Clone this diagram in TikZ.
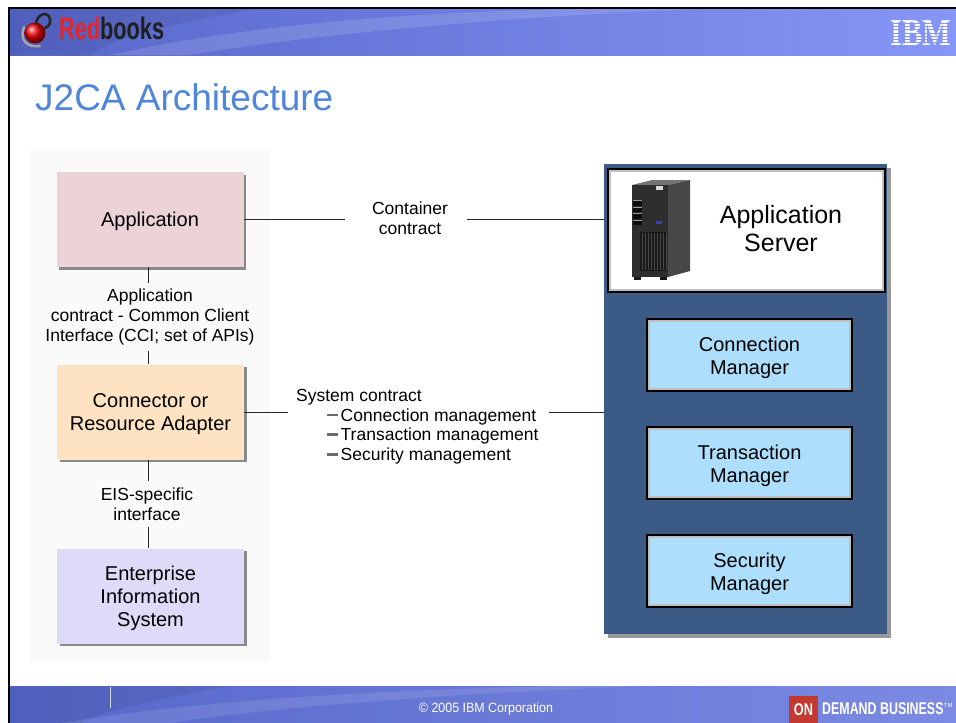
\documentclass[tikz,border=0pt]{standalone}
\usepackage{fontspec}
\usepackage{graphicx}
\setmainfont{Liberation Sans}
\newfontfamily\logoserif{Liberation Serif}
\usetikzlibrary{shadows,calc}

\definecolor{appfill}{HTML}{ECD3D8}
\definecolor{adpfill}{HTML}{FDE3C2}
\definecolor{eisfill}{HTML}{DEDBF8}
\definecolor{mgrfill}{HTML}{ADDFFD}
\definecolor{asblue}{HTML}{3B5A86}
\definecolor{leftbg}{HTML}{FAFAFB}
\definecolor{titleblue}{HTML}{4F86D9}
\definecolor{bandL}{HTML}{5767CA}
\definecolor{bandR}{HTML}{8696F6}
\definecolor{redbk}{HTML}{E3262B}
\definecolor{onred}{HTML}{C4392F}

\newcommand\jBox{\fontsize{20}{23}\selectfont}
\newcommand\jLab{\fontsize{17.5}{20}\selectfont}
\newcommand\jDash{\textcolor{black!58}{\rule[4.8pt]{10.5pt}{2.6pt}}}
% top struts that push box captions slightly down
\newcommand\jTopA{\rule{0pt}{19pt}}
\newcommand\jTopB{\rule{0pt}{20.5pt}}

\begin{document}
\begin{tikzpicture}[x=1pt,y=-1pt,
  wire/.style={draw=black!85,line width=1pt},
  lbox/.style={rectangle,fill=#1,minimum width=187pt,minimum height=95pt,inner sep=0pt,
    align=center,font=\jBox,
    drop shadow={shadow xshift=2.5pt,shadow yshift=-2.5pt,fill=black,opacity=0.45}},
  lab/.style={align=center,font=\jLab,inner xsep=0pt,inner ysep=6pt},
  mgr/.style={rectangle,fill=mgrfill,draw=black,line width=2pt,outer sep=0pt,
    minimum width=205pt,minimum height=72pt,align=center,font=\jBox},
]
\useasboundingbox (0,0) rectangle (956,723);
\fill[white] (0,0) rectangle (956,723);

% ---- header band ----
\shade[left color=bandL,right color=bandR] (10,8.5) rectangle (956,55);
\begin{scope}
  \clip (10,8.5) rectangle (956,55);
  \fill[white,opacity=0.12] (110,55) .. controls (260,22) and (430,10) .. (640,8)
     -- (720,8) .. controls (470,18) and (290,38) .. (190,55) -- cycle;
  \fill[black,opacity=0.07] (10,8) -- (260,8) .. controls (160,25) and (110,40) .. (90,55) -- (10,55) -- cycle;
\end{scope}
\draw[black,line width=2pt] (9,723) -- (9,7.5) -- (956,7.5);

% Redbooks logo
\draw[black!35,line width=2.4pt,line cap=round] (24,27) .. controls (19,40) and (27,48) .. (40,46);
\shade[ball color=red!90!black] (35,33) circle (10.5);
\draw[black!85,line width=2.6pt,line cap=round] (36,23) .. controls (38,13) and (48,11) .. (50,19)
   .. controls (51,24) and (48,27) .. (45,28);
\node[anchor=base west,inner sep=0pt,font=\fontsize{31}{33}\selectfont\bfseries] (rb) at (59,39)
   {\scalebox{0.70}[1]{\textcolor{redbk}{Red}\textcolor{black!88}{books}}};

% IBM logo
\node[anchor=base west,inner sep=0pt,text=white,font=\logoserif\bfseries\fontsize{38}{38}\selectfont] (ibm) at (890,45)
   {\scalebox{0.8}[1]{IBM}};
\foreach \k in {1,...,7} \draw[bandR,line width=0.8pt] (887,{20.5+3.1*\k}) -- (955,{20.5+3.1*\k});

% ---- title ----
\node[anchor=base west,inner sep=0pt,text=titleblue,font=\fontsize{37}{40}\selectfont] (title) at (35,110) {J2CA Architecture};

% ---- left column ----
\fill[leftbg] (30,150) rectangle (270,662);
\node[lbox=appfill] (app) at (150,219.5) {\jTopA Application};
\node[lbox=adpfill] (adp) at (150.5,412) {\jTopA Connector or\\Resource Adapter};
\node[lbox=eisfill] (eis) at (150.5,596) {\jTopA Enterprise\\Information\\System};

\node[lab] (appc) at (150,317) {Application\\contract - Common Client\\Interface (CCI; set of APIs)};
\node[lab] (eisc) at (147,504) {EIS-specific\\interface};

\draw[wire] (app.south -| 148,0) -- (appc.north -| 148,0);
\draw[wire] (appc.south -| 148,0) -- (adp.north -| 148,0);
\draw[wire] (adp.south -| 148,0) -- (eisc.north -| 148,0);
\draw[wire] (eisc.south -| 148,0) -- (eis.north -| 148,0);

% ---- application server ----
\node[rectangle,fill=asblue,minimum width=283pt,minimum height=470pt,inner sep=0pt,
  drop shadow={shadow xshift=4pt,shadow yshift=-4pt,fill=black,opacity=0.4}] (as) at (745.5,399) {};
\node[rectangle,fill=white,draw=black,line width=2pt,outer sep=0pt,
  minimum width=277pt,minimum height=123pt] (asbox) at (746.5,230.5) {};
\draw[black!25,line width=1.8pt] ($(asbox.north west)+(2,2)$) rectangle ($(asbox.south east)+(-2,-2)$);
\node[align=center,font=\fontsize{25}{28}\selectfont] (astext) at (781,229) {Application\\Server};

% server tower
\fill[black!55] (632,185) -- (652,180) -- (690,180) -- (668,185) -- cycle;
\fill[black!72] (668,185) -- (690,180) -- (690,271) -- (668,277) -- cycle;
\fill[black!82] (632,185) rectangle (668,277);
\foreach \yy in {200,206.5,213,219.5} {
  \fill[black!95] (633,\yy) rectangle (642,\yy+5.5);
  \draw[black!40,line width=0.6pt] (633,\yy+0.5) -- (642,\yy+0.5);
}
\fill[black!90] (640,232) rectangle (667,271);
\foreach \xx in {642,645,...,666} \draw[black!72,line width=0.4pt] (\xx,233) -- (\xx,270);
\fill[black!15] (656,186) rectangle (663,190);
\fill[blue!55!black!75] (656,221) rectangle (662,224);
\fill[black!90] (634,277) rectangle (641,280);
\fill[black!90] (660,277) rectangle (667,280);

\node[mgr] (cm) at (749.5,355) {\jTopB Connection\\Manager};
\node[mgr] (tm) at (749.5,463) {\jTopB Transaction\\Manager};
\node[mgr] (sm) at (749.5,571) {\jTopB Security\\Manager};
\foreach \m in {cm,tm,sm}
  \draw[black!25,line width=2.2pt] ($(\m.north west)+(2.1,2.1)$) rectangle ($(\m.south east)+(-2.1,-2.1)$);

% ---- contracts ----
\node[lab] (cc) at (410,218) {Container\\contract};
\draw[wire,shorten >=27pt] (app.east) -- (app.east -| cc.west);
\draw[wire,shorten <=19pt] (app.east -| cc.east) -- (app.east -| as.west);

\node[anchor=north west,inner sep=0pt,align=left,font=\fontsize{17.5}{19.7}\selectfont] (sysc) at (296,389)
  {System contract\\
   \hspace*{31pt}\jDash\hspace{3pt}Connection management\\
   \hspace*{31pt}\jDash\hspace{3pt}Transaction management\\
   \hspace*{31pt}\jDash\hspace{3pt}Security management};
\draw[wire,shorten >=8pt] (adp.east) -- (adp.east -| sysc.west);
\draw[wire,shorten <=10pt] (adp.east -| sysc.east) -- (adp.east -| as.west);

% ---- footer band ----
\shade[left color=bandL,right color=bandR!92!black] (10,686) rectangle (956,723);
\begin{scope}
  \clip (10,686) rectangle (956,723);
  \fill[white,opacity=0.10] (60,723) .. controls (200,700) and (380,690) .. (560,686)
     -- (640,686) .. controls (420,695) and (250,710) .. (170,723) -- cycle;
  \fill[black,opacity=0.07] (10,686) -- (230,686) .. controls (150,700) and (100,712) .. (80,723) -- (10,723) -- cycle;
\end{scope}
\draw[white!75!bandL,line width=0.8pt] (110,687) -- (110,708);
\node[text=white,inner sep=0pt,font=\fontsize{13.5}{15}\selectfont] (copy) at (486,709)
   {\scalebox{0.92}[1]{© 2005 IBM Corporation}};
\node[fill=onred,text=white,inner sep=0pt,minimum width=29pt,minimum height=27pt,
   font=\fontsize{17}{17}\selectfont\bfseries] (on) at (803.5,709.5) {\scalebox{0.75}[1]{ON}};
\node[anchor=west,text=white,inner sep=0pt,font=\fontsize{17}{17}\selectfont\bfseries] (odb) at (822,709)
   {\scalebox{0.73}[1]{DEMAND BUSINESS}};
\node[anchor=north west,inner sep=0pt,text=white,font=\fontsize{6}{6}\selectfont] (tmark) at (odb.north east) {TM};
\end{tikzpicture}
\end{document}
